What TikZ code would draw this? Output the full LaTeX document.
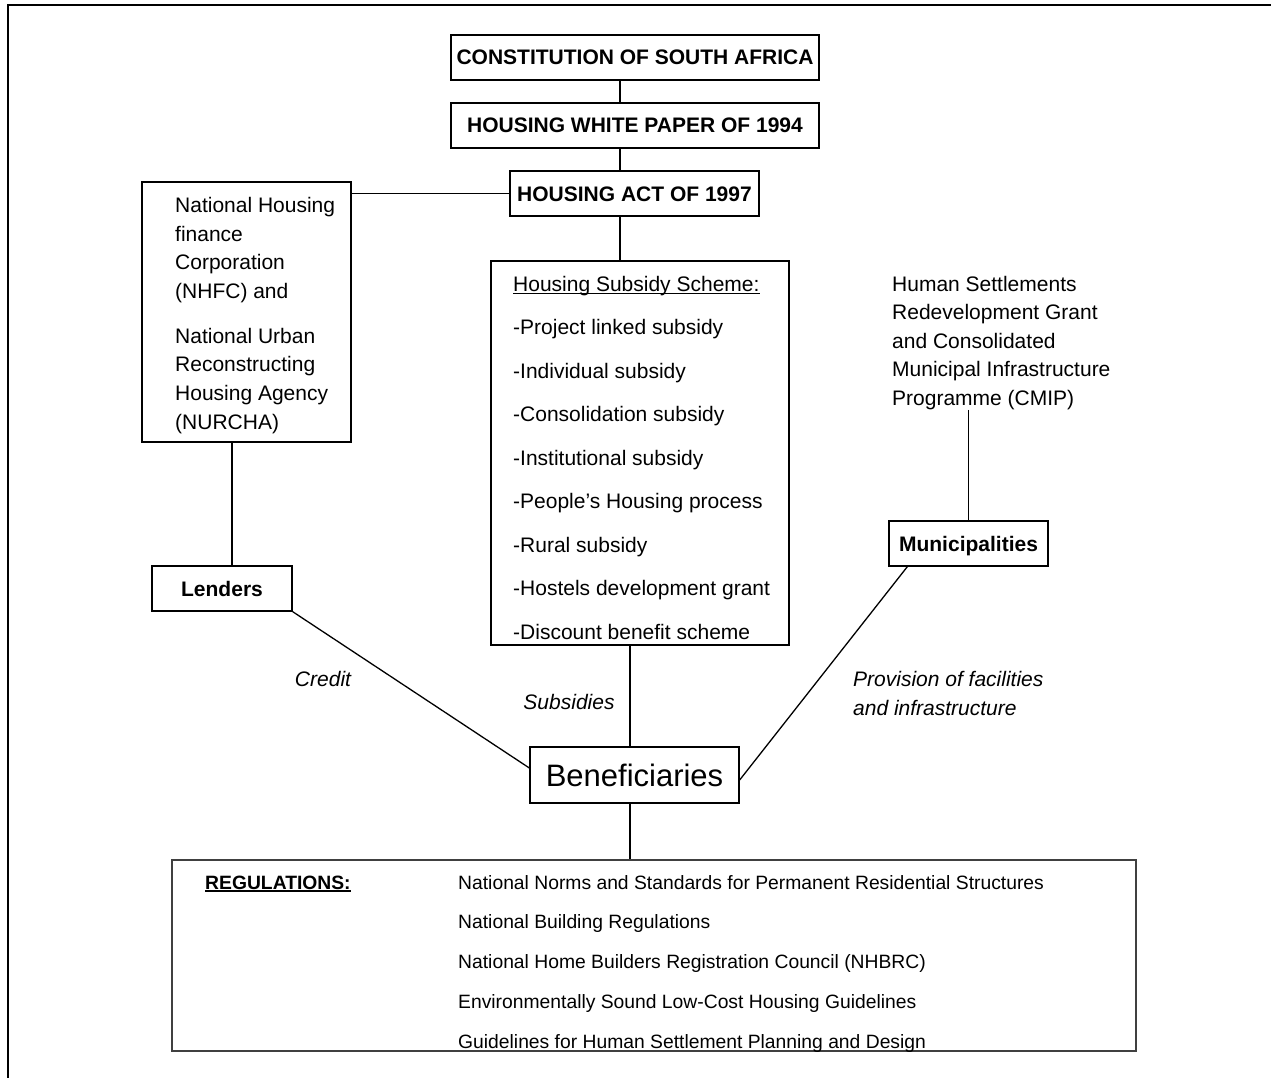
\documentclass[tikz,border=0pt]{standalone}
\usepackage{fontspec}
\setmainfont{Liberation Sans}
\usepackage{tikz}

\newcommand{\lowrule}[1]{\setbox0\hbox{#1}\rlap{\rule[-2.5pt]{\wd0}{1.2pt}}\box0}

\begin{document}
\begin{tikzpicture}[
    x=1pt, y=-1pt,
    box/.style={draw, line width=1.3pt, minimum height=45pt, inner sep=0pt,
        font=\bfseries\fontsize{21}{25}\selectfont, text height=15pt, text depth=0pt},
    frame/.style={draw, line width=1.3pt, inner sep=0pt},
    list/.style={align=left, anchor=north west, inner sep=0pt},
    flow/.style={inner sep=0pt, font=\itshape\fontsize{21}{29}\selectfont},
    link/.style={line width=1.3pt}
]
\useasboundingbox (0,0) rectangle (1271,1078);
\draw[line width=2.5pt] (1271,5) -- (8,5) -- (8,1078);

\node[box, minimum width=368pt] (constitution) at (635,57.5) {CONSTITUTION OF SOUTH AFRICA};
\node[box, minimum width=368pt] (whitepaper) at (635,125.5) {HOUSING WHITE PAPER OF 1994};
\node[box, minimum width=249pt] (act) at (634.5,193.5) {HOUSING ACT OF 1997};

\node[frame, minimum width=209pt, minimum height=260pt] (nhfc) at (246.5,312) {};
\node[list, font=\fontsize{21}{28.7}\selectfont] (nhfctext) at (175,197) {National Housing\\finance\\Corporation\\(NHFC) and\\[16pt]National Urban\\Reconstructing\\Housing Agency\\(NURCHA)};
\node[box, minimum width=140pt] (lenders) at (222,588.5) {Lenders};

\node[frame, minimum width=298pt, minimum height=384pt] (subsidy) at (640,453) {};
\node[list, font=\fontsize{21}{43.5}\selectfont] (subsidytext) at (513,276) {\lowrule{Housing Subsidy Scheme:}\\-Project linked subsidy\\-Individual subsidy\\-Consolidation subsidy\\-Institutional subsidy\\-People’s Housing process\\-Rural subsidy\\-Hostels development grant\\-Discount benefit scheme};

\node[list, font=\fontsize{21}{28.5}\selectfont] (settlements) at (892,276) {Human Settlements\\Redevelopment Grant\\and Consolidated\\Municipal Infrastructure\\Programme (CMIP)};
\node[box, minimum width=159pt] (municipalities) at (968.5,543.5) {Municipalities};

\node[frame, minimum width=209pt, minimum height=56pt, font=\fontsize{31}{36}\selectfont, text height=22.5pt, text depth=0pt] (beneficiaries) at (634.5,775) {Beneficiaries};

\node[flow] (credit) at (323,679) {Credit};
\node[flow] (subsidies) at (569,702) {Subsidies};
\node[flow, align=left, anchor=west] (provision) at (853,693.5) {Provision of facilities\\and infrastructure};

\node[frame, draw=black!75, minimum width=964pt, minimum height=191pt] (regulations) at (654,955.5) {};
\node[inner sep=0pt, anchor=base west, font=\bfseries\fontsize{19.3}{23}\selectfont] (regtitle) at (205,889) {\lowrule{REGULATIONS:}};
\node[list, font=\fontsize{19.3}{39.75}\selectfont] (reglist) at (458,875) {National Norms and Standards for Permanent Residential Structures\\National Building Regulations\\National Home Builders Registration Council (NHBRC)\\Environmentally Sound Low-Cost Housing Guidelines\\Guidelines for Human Settlement Planning and Design};

\coordinate (spine) at (620,0);
\coordinate (stem) at (630,0);
\coordinate (nhfcleg) at (232,0);

\draw[link] (constitution.south -| spine) -- (whitepaper.north -| spine);
\draw[link] (whitepaper.south -| spine) -- (act.north -| spine);
\draw[link] (act.south -| spine) -- (subsidy.north -| spine);
\draw[link] (act.west) -- (act.west -| nhfc.east);
\draw[link] (nhfc.south -| nhfcleg) -- (lenders.north -| nhfcleg);
\draw[link] (lenders.south east) -- ([yshift=7pt]beneficiaries.west);
\draw[link] (subsidy.south -| stem) -- (beneficiaries.north -| stem);
\draw[link] (beneficiaries.south -| stem) -- (regulations.north -| stem);
\draw[link] (settlements.south -| municipalities.north) -- (municipalities.north);
\draw[link] ([xshift=19pt]municipalities.south west) -- ([yshift=-5pt]beneficiaries.east);
\end{tikzpicture}
\end{document}
